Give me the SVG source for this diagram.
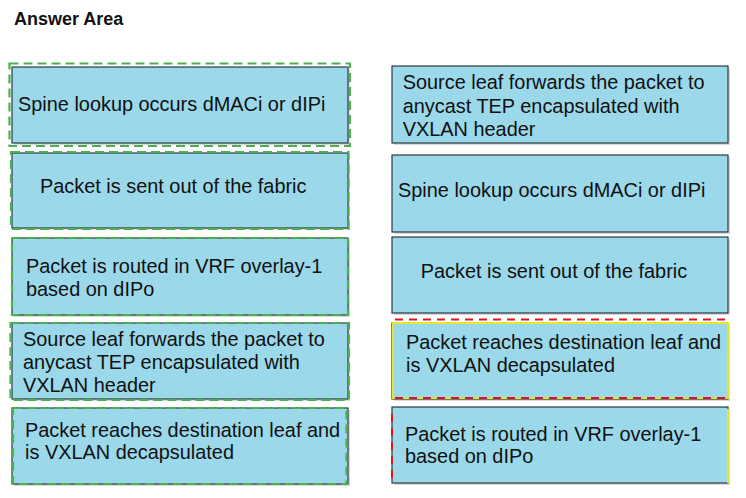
<svg xmlns="http://www.w3.org/2000/svg" width="746" height="498" viewBox="0 0 746 498">
<style>
.bx{fill:#9ad8ea;stroke:#2b3a40;stroke-width:1.2}
.sh{fill:#d9d9d9}
.t{font-family:"Liberation Sans",Arial,sans-serif;font-size:19.9px;fill:#111}
.ttl{font-family:"Liberation Sans",Arial,sans-serif;font-size:18px;font-weight:bold;fill:#111}
.g{fill:none;stroke:#4caf50;stroke-width:2.2;stroke-dasharray:9 5}
.r{fill:none;stroke:#e0141e;stroke-width:2;stroke-dasharray:8 6}
.y{fill:none;stroke:#e6e62e;stroke-width:2}
</style>
<rect width="746" height="498" fill="#ffffff"/>
<text class="ttl" x="14" y="25">Answer Area</text>

<g id="left1">
<rect class="sh" x="14" y="69" width="336" height="76"/>
<rect class="bx" x="12" y="67" width="336" height="76"/>
<rect class="g" x="9.5" y="63.5" width="340.5" height="82.5"/>
<text class="t" x="18" y="110.7">Spine lookup occurs dMACi or dIPi</text>
</g>
<g id="left2">
<rect class="sh" x="14" y="155" width="336" height="75"/>
<rect class="bx" x="12" y="153" width="336" height="75"/>
<rect class="g" x="11" y="152" width="337.5" height="77"/>
<text class="t" x="40" y="193.3">Packet is sent out of the fabric</text>
</g>
<g id="left3">
<rect class="sh" x="14" y="240" width="336" height="77"/>
<rect class="bx" x="12" y="238" width="336" height="77"/>
<rect class="g" x="12" y="238" width="336" height="77"/>
<text class="t" x="26" y="273.3">Packet is routed in VRF overlay-1</text>
<text class="t" x="26" y="296">based on dIPo</text>
</g>
<g id="left4">
<rect class="sh" x="14" y="325" width="336" height="76"/>
<rect class="bx" x="12" y="323" width="336" height="76"/>
<rect class="g" x="10.5" y="323" width="338.5" height="77"/>
<text class="t" x="23" y="346">Source leaf forwards the packet to</text>
<text class="t" x="23" y="369.3">anycast TEP encapsulated with</text>
<text class="t" x="23" y="392.3">VXLAN header</text>
</g>
<g id="left5">
<rect class="sh" x="14" y="410" width="336" height="76"/>
<rect class="bx" x="12" y="408" width="336" height="76"/>
<rect class="g" x="13" y="408" width="333.5" height="76"/>
<text class="t" x="25" y="436.7">Packet reaches destination leaf and</text>
<text class="t" x="25" y="459.3">is VXLAN decapsulated</text>
</g>

<g id="right1">
<rect class="sh" x="394" y="68" width="336" height="77"/>
<rect class="bx" x="392" y="66" width="336" height="77"/>
<text class="t" x="402.7" y="89.3">Source leaf forwards the packet to</text>
<text class="t" x="402.7" y="112.7">anycast TEP encapsulated with</text>
<text class="t" x="402.7" y="135.7">VXLAN header</text>
</g>
<g id="right2">
<rect class="sh" x="394" y="157" width="336" height="77"/>
<rect class="bx" x="392" y="155" width="336" height="77"/>
<text class="t" x="398" y="197.3">Spine lookup occurs dMACi or dIPi</text>
</g>
<g id="right3">
<rect class="sh" x="394" y="239" width="336" height="76"/>
<rect class="bx" x="392" y="237" width="336" height="76"/>
<text class="t" x="420.7" y="278.3">Packet is sent out of the fabric</text>
</g>
<g id="right4">
<rect class="sh" x="394" y="325" width="336" height="76"/>
<rect class="bx" x="392" y="323" width="336" height="76"/>
<rect class="y" x="393" y="323" width="335" height="75"/>
<line class="r" x1="395" y1="319.5" x2="728" y2="319.5"/>
<line class="r" x1="395" y1="398" x2="728" y2="398"/>
<text class="t" x="406" y="349.3">Packet reaches destination leaf and</text>
<text class="t" x="406" y="372.3">is VXLAN decapsulated</text>
</g>
<g id="right5">
<rect class="sh" x="394" y="409" width="336" height="76"/>
<rect class="bx" x="392" y="407" width="336" height="76"/>
<line class="y" x1="728" y1="409" x2="728" y2="483"/>
<line class="r" x1="392" y1="414" x2="392" y2="483"/>
<text class="t" x="405" y="441">Packet is routed in VRF overlay-1</text>
<text class="t" x="405" y="463.3">based on dIPo</text>
</g>
</svg>
